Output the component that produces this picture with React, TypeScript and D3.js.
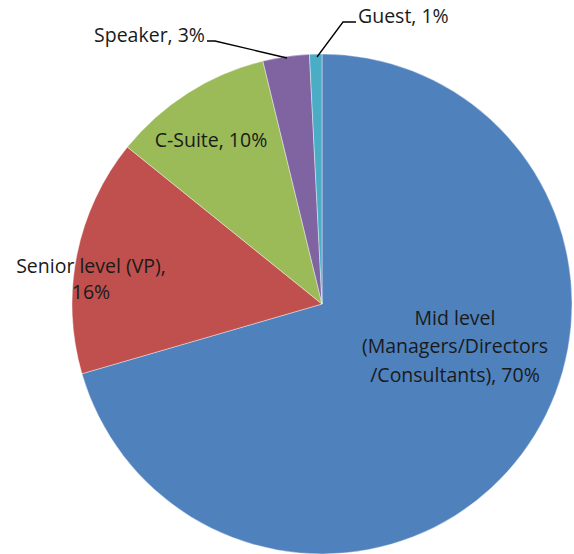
import React from "react";
import * as d3 from "d3";

const categories = ["Mid level", "Senior level (VP)", "C-Suite", "Speaker", "Guest"];
const values = [70.5, 15.3, 10.4, 3.0, 0.8];
const percentLabels = ["70%", "16%", "10%", "3%", "1%"];
const colors = ["#4F81BD", "#C0504D", "#9BBB59", "#8064A2", "#4BACC6"];

const W = 574;
const H = 554;
const cx = 322;
const cy = 304;
const R = 250;
const FONT = "'Open Sans', sans-serif";
const FS = 19.5;

export default function App() {
  const pie = d3.pie<number>().sort(null).startAngle(0).endAngle(2 * Math.PI)(values);
  const arc = d3.arc<d3.PieArcDatum<number>>().innerRadius(0).outerRadius(R);

  const textProps = { fontFamily: FONT, fontSize: FS, fill: "#1a1a1a" };

  return (
    <svg
      width={W}
      height={H}
      style={{ position: "absolute", left: 0, top: 0, background: "#fff" }}
    >
      <g transform={`translate(${cx},${cy})`}>
        {pie.map((d, i) => (
          <path
            key={categories[i]}
            d={arc(d) || ""}
            fill={colors[i]}
            stroke="#ffffff"
            strokeOpacity={0.5}
            strokeWidth={0.8}
          />
        ))}
      </g>
      {/* leader lines */}
      <polyline points="207,41 215,41 287,58" fill="none" stroke="#000" strokeWidth={1.3} />
      <polyline points="356,22 343,22 317,57" fill="none" stroke="#000" strokeWidth={1.3} />

      {/* Mid level */}
      <text {...textProps} textAnchor="middle">
        <tspan x={455} y={325}>{categories[0]}</tspan>
        <tspan x={455} y={353}>(Managers/Directors</tspan>
        <tspan x={455} y={382}>{`/Consultants), ${percentLabels[0]}`}</tspan>
      </text>
      {/* Senior */}
      <text {...textProps} textAnchor="middle">
        <tspan x={91} y={273}>{`${categories[1]},`}</tspan>
        <tspan x={91} y={299}>{percentLabels[1]}</tspan>
      </text>
      {/* C-Suite */}
      <text {...textProps} textAnchor="middle" x={211} y={147}>
        {`${categories[2]}, ${percentLabels[2]}`}
      </text>
      {/* Speaker */}
      <text {...textProps} textAnchor="end" x={205} y={42}>
        {`${categories[3]}, ${percentLabels[3]}`}
      </text>
      {/* Guest */}
      <text {...textProps} textAnchor="start" x={358} y={23}>
        {`${categories[4]}, ${percentLabels[4]}`}
      </text>
    </svg>
  );
}
